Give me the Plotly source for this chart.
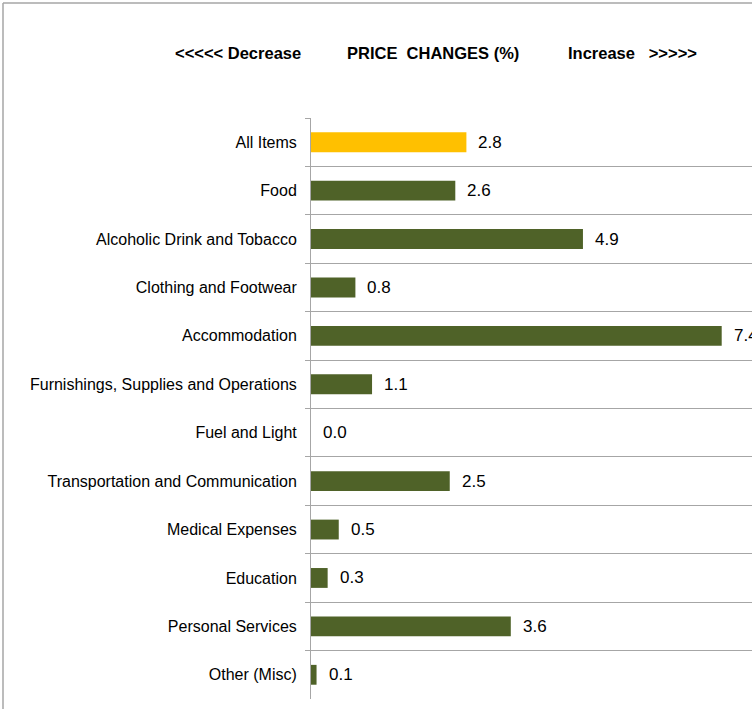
import plotly.graph_objects as go

categories = ["All Items", "Food", "Alcoholic Drink and Tobacco", "Clothing and Footwear",
              "Accommodation", "Furnishings, Supplies and Operations", "Fuel and Light",
              "Transportation and Communication", "Medical Expenses", "Education",
              "Personal Services", "Other (Misc)"]
values = [2.8, 2.6, 4.9, 0.8, 7.4, 1.1, 0.0, 2.5, 0.5, 0.3, 3.6, 0.1]
colors = ["#FFC000"] + ["#4F6228"] * (len(categories) - 1)
title_parts = ["<<<<< Decrease", "PRICE  CHANGES (%)", "Increase   >>>>>"]

FONT = "Liberation Sans"
W, H = 752, 709
L, T, B = 311, 118, 10
plot_w = W - L
plot_h = H - T - B
px_per_unit = 55.5

fig = go.Figure(go.Bar(
    x=values, y=categories, orientation="h",
    marker=dict(color=colors, line=dict(width=0)),
    width=0.41,
    hoverinfo="skip",
))

for v, c in zip(values, categories):
    fig.add_annotation(x=v, y=c, xref="x", yref="y", text=f"{v:.1f}",
                       showarrow=False, xanchor="left", xshift=10,
                       font=dict(family=FONT, size=17, color="#000"))

title_x = [173, 345, 566]
for t, px in zip(title_parts, title_x):
    fig.add_annotation(x=(px - L) / plot_w, y=(H - B - 53) / plot_h, xref="paper", yref="paper",
                       text=f"<b>{t.replace('  ', '&nbsp; ')}</b>", showarrow=False,
                       xanchor="left", yanchor="middle",
                       font=dict(family=FONT, size=16.5, color="#000"))

# outer chart border (left and top)
fig.add_shape(type="line", xref="paper", yref="paper",
              x0=(3 - L) / plot_w, x1=(W + 5 - L) / plot_w,
              y0=(H - B - 3) / plot_h, y1=(H - B - 3) / plot_h,
              line=dict(color="#A6A6A6", width=1.5))
fig.add_shape(type="line", xref="paper", yref="paper",
              x0=(3 - L) / plot_w, x1=(3 - L) / plot_w,
              y0=(H - B - 3) / plot_h, y1=-0.1,
              line=dict(color="#A6A6A6", width=1.5))

fig.update_layout(
    width=W, height=H,
    margin=dict(l=L, r=0, t=T, b=B, pad=0),
    paper_bgcolor="white", plot_bgcolor="white",
    showlegend=False,
    font=dict(family=FONT, size=15, color="#000"),
    xaxis=dict(range=[0, plot_w / px_per_unit], showgrid=False, zeroline=False,
               showticklabels=False, ticks="", showline=False, fixedrange=True),
    yaxis=dict(autorange="reversed", type="category", tickson="boundaries",
               showgrid=True, gridcolor="#A6A6A6", gridwidth=1,
               showline=True, linecolor="#A6A6A6", linewidth=1,
               ticks="outside", ticklen=5, tickcolor="#A6A6A6",
               ticklabelstandoff=10,
               tickfont=dict(family=FONT, size=16, color="#000"),
               zeroline=False, fixedrange=True),
)

fig.write_html("out.html", config={"displayModeBar": False},
               post_script="document.body.style.margin='0';document.body.style.overflow='hidden';")
